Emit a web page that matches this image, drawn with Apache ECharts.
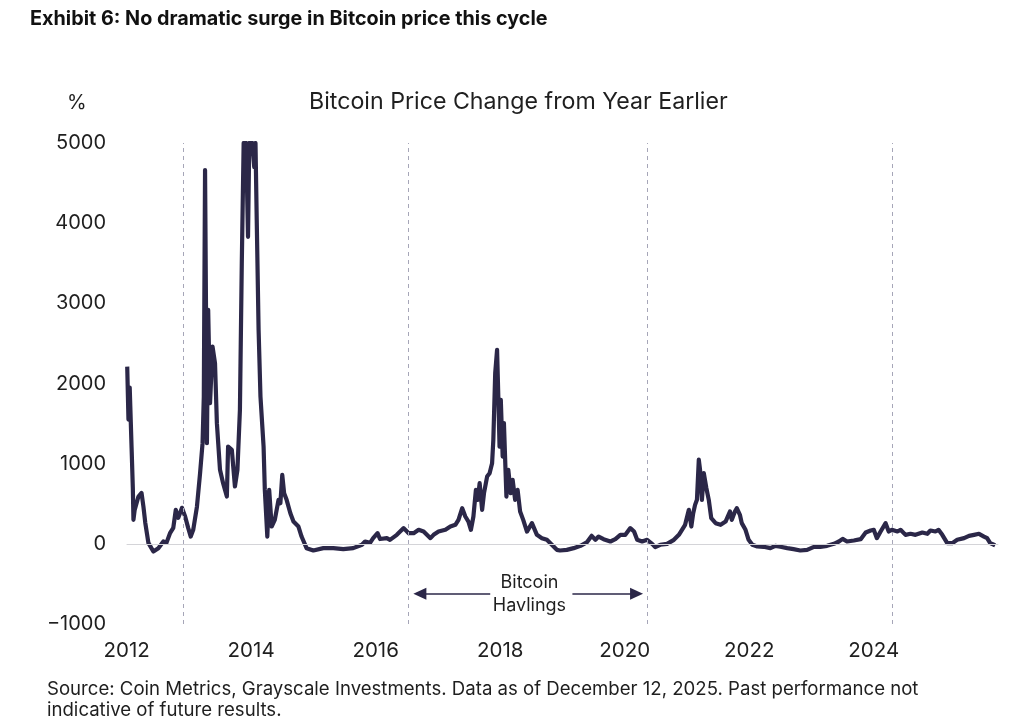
<!DOCTYPE html>
<html lang="en">
<head>
    <meta charset="UTF-8">
    <title>Bitcoin Price Change from Year Earlier</title>
    <script src="https://cdn.jsdelivr.net/npm/echarts@6/dist/echarts.min.js"></script>
    <style>
        html, body { margin: 0; padding: 0; background: #fff; }
        #main { width: 1024px; height: 728px; }
    </style>
</head>
<body>
<div id="main"></div>
<script>
    // decimal year of each reading, and the % change
    var years = [
        2012.01, 2012.03, 2012.05, 2012.08, 2012.10, 2012.11, 2012.13, 2012.19, 2012.24, 2012.27,
        2012.30, 2012.35, 2012.43, 2012.51, 2012.59, 2012.64, 2012.70, 2012.75, 2012.79, 2012.83,
        2012.89, 2012.94, 2012.99, 2013.03, 2013.07, 2013.13, 2013.18, 2013.22, 2013.24, 2013.26,
        2013.29, 2013.31, 2013.34, 2013.38, 2013.42, 2013.45, 2013.50, 2013.55, 2013.61, 2013.63,
        2013.69, 2013.74, 2013.78, 2013.82, 2013.85, 2013.88, 2013.92, 2013.95, 2013.97, 2014.02,
        2014.05, 2014.07, 2014.09, 2014.12, 2014.15, 2014.20, 2014.22, 2014.26, 2014.29, 2014.33,
        2014.38, 2014.44, 2014.47, 2014.50, 2014.53, 2014.57, 2014.63, 2014.68, 2014.76, 2014.81,
        2014.89, 2015.00, 2015.16, 2015.32, 2015.48, 2015.64, 2015.78, 2015.83, 2015.91, 2015.96,
        2016.03, 2016.07, 2016.18, 2016.23, 2016.34, 2016.45, 2016.53, 2016.61, 2016.69, 2016.77,
        2016.88, 2016.93, 2017.01, 2017.12, 2017.20, 2017.28, 2017.33, 2017.39, 2017.44, 2017.49,
        2017.53, 2017.57, 2017.61, 2017.64, 2017.67, 2017.71, 2017.74, 2017.79, 2017.83, 2017.87,
        2017.89, 2017.92, 2017.95, 2017.97, 2017.99, 2018.01, 2018.04, 2018.06, 2018.10, 2018.13,
        2018.17, 2018.20, 2018.24, 2018.28, 2018.32, 2018.37, 2018.43, 2018.51, 2018.59, 2018.67,
        2018.75, 2018.83, 2018.91, 2018.96, 2019.07, 2019.18, 2019.29, 2019.39, 2019.47, 2019.53,
        2019.58, 2019.66, 2019.77, 2019.85, 2019.93, 2020.01, 2020.09, 2020.15, 2020.20, 2020.28,
        2020.36, 2020.44, 2020.49, 2020.57, 2020.68, 2020.79, 2020.87, 2020.92, 2020.97, 2021.03,
        2021.07, 2021.10, 2021.13, 2021.16, 2021.19, 2021.21, 2021.24, 2021.27, 2021.31, 2021.35,
        2021.39, 2021.46, 2021.54, 2021.62, 2021.69, 2021.72, 2021.77, 2021.80, 2021.85, 2021.88,
        2021.94, 2021.99, 2022.05, 2022.13, 2022.23, 2022.34, 2022.42, 2022.50, 2022.61, 2022.71,
        2022.82, 2022.93, 2023.04, 2023.14, 2023.25, 2023.36, 2023.44, 2023.50, 2023.57, 2023.68,
        2023.79, 2023.87, 2023.95, 2024.00, 2024.05, 2024.11, 2024.19, 2024.24, 2024.29, 2024.38,
        2024.43, 2024.51, 2024.59, 2024.67, 2024.78, 2024.86, 2024.91, 2024.99, 2025.04, 2025.10,
        2025.18, 2025.26, 2025.34, 2025.45, 2025.53, 2025.61, 2025.69, 2025.77, 2025.82, 2025.87,
        2025.93, 2025.95
    ];
    var values = [
        2211, 1550, 1950, 1200, 700, 300, 424, 590, 634, 465,
        262, 12, -96, -54, 29, 12, 137, 200, 424, 324,
        449, 341, 196, 91, 175, 465, 881, 1256, 1837, 4663,
        1256, 2918, 1754, 2460, 2253, 1505, 923, 757, 590, 1213,
        1172, 715, 923, 1671, 3500, 5000, 5000, 3830, 5000, 5000,
        4700, 5000, 4040, 2668, 1837, 1213, 673, 91, 673, 216,
        299, 549, 507, 860, 632, 549, 382, 278, 216, 91,
        -54, -83, -54, -54, -66, -54, -12, 29, 12, 71,
        133, 60, 71, 50, 112, 196, 133, 133, 175, 154,
        71, 112, 154, 175, 216, 237, 299, 445, 341, 278,
        175, 341, 673, 549, 757, 424, 632, 839, 881, 1006,
        1297, 2128, 2419, 1837, 1213, 1796, 1089, 1505, 590, 923,
        632, 798, 549, 673, 403, 299, 153, 258, 112, 71,
        50, -12, -75, -83, -75, -54, -25, 17, 100, 50,
        91, 58, 29, 58, 112, 112, 196, 154, 50, 29,
        50, 0, -41, -12, 0, 50, 112, 175, 237, 424,
        216, 382, 486, 549, 1050, 923, 549, 881, 700, 549,
        320, 258, 237, 278, 403, 299, 403, 445, 362, 258,
        175, 50, -12, -33, -37, -54, -25, -37, -54, -66,
        -83, -75, -37, -37, -25, 0, 29, 62, 29, 42,
        58, 141, 166, 175, 71, 154, 258, 154, 175, 154,
        175, 112, 125, 112, 141, 125, 166, 154, 175, 112,
        8, 8, 50, 71, 100, 112, 125, 91, 71, 8,
        -12, -20
    ];
    // halving dates (decimal years)
    var halvings = [2012.907, 2016.520, 2020.359, 2024.301];

    var ink = '#2b2748';
    var textColor = '#1f1f1f';
    var font = 'Inter, "Noto Sans", sans-serif';

    var seriesData = years.map(function (y, i) { return [y, values[i]]; });

    var myChart = echarts.init(document.getElementById('main'));

    var lines = [];
    // zero line
    lines.push({
        yAxis: 0,
        lineStyle: { color: '#d4d4d8', width: 1.2, type: 'solid' }
    });
    // halving dashed lines
    halvings.forEach(function (h) {
        lines.push({
            xAxis: h,
            lineStyle: { color: '#a6a6b8', width: 1, type: [4, 4] }
        });
    });
    // arrows between the middle two halvings
    var arrowStyle = { color: ink, width: 1.5, type: 'solid' };
    lines.push([
        { coord: [2017.84, -623], symbol: 'none', lineStyle: arrowStyle },
        { coord: [2016.71, -623], symbol: 'triangle', symbolSize: [12, 13], symbolRotate: 90 }
    ]);
    lines.push([
        { coord: [2019.16, -623], symbol: 'none', lineStyle: arrowStyle },
        { coord: [2020.19, -623], symbol: 'triangle', symbolSize: [12, 13], symbolRotate: -90 }
    ]);

    var option = {
        animation: false,
        backgroundColor: '#fff',
        grid: { left: 126.6, right: 25.7, top: 143, bottom: 104 },
        xAxis: {
            type: 'value',
            min: 2012,
            max: 2026,
            interval: 2,
            axisLine: { show: false },
            axisTick: { show: false },
            splitLine: { show: false },
            axisLabel: {
                showMaxLabel: false,
                color: textColor,
                fontSize: 20.5,
                fontFamily: font,
                margin: 16,
                formatter: function (v) { return String(v); }
            }
        },
        yAxis: {
            type: 'value',
            min: -1000,
            max: 5000,
            interval: 1000,
            axisLine: { show: false },
            axisTick: { show: false },
            splitLine: { show: false },
            axisLabel: {
                color: textColor,
                fontSize: 20,
                fontFamily: font,
                margin: 20.5,
                formatter: function (v) { return v < 0 ? '\u2212' + Math.abs(v) : String(v); }
            }
        },
        graphic: [
            {
                type: 'text', left: 30, top: 9,
                style: { text: 'Exhibit 6: No dramatic surge in Bitcoin price this cycle', fill: '#111', font: 'bold 19.8px ' + font }
            },
            {
                type: 'text', left: 67, top: 93,
                style: { text: '%', fill: textColor, font: '20px ' + font }
            },
            {
                type: 'text', left: 309, top: 91,
                style: { text: 'Bitcoin Price Change from Year Earlier', fill: textColor, font: '23.2px ' + font }
            },
            {
                type: 'text', left: 47, top: 679,
                style: {
                    text: 'Source: Coin Metrics, Grayscale Investments. Data as of December 12, 2025. Past performance not\nindicative of future results.',
                    fill: textColor, font: '18.6px ' + font, lineHeight: 21
                }
            }
        ],
        series: [
            {
                type: 'line',
                data: seriesData,
                showSymbol: false,
                symbol: 'none',
                clip: true,
                lineStyle: { color: ink, width: 4.2, join: 'round' },
                z: 3,
                markLine: {
                    silent: true,
                    symbol: 'none',
                    label: { show: false },
                    emphasis: { disabled: true },
                    itemStyle: { color: ink },
                    data: lines
                },
                markPoint: {
                    silent: true,
                    symbol: 'rect',
                    symbolSize: 0,
                    label: {
                        show: true,
                        position: 'inside',
                        formatter: 'Bitcoin\nHavlings',
                        color: textColor,
                        fontSize: 18,
                        fontFamily: font,
                        lineHeight: 23
                    },
                    data: [{ coord: [2018.47, -625] }]
                }
            }
        ]
    };
    myChart.setOption(option);
</script>
</body>
</html>
